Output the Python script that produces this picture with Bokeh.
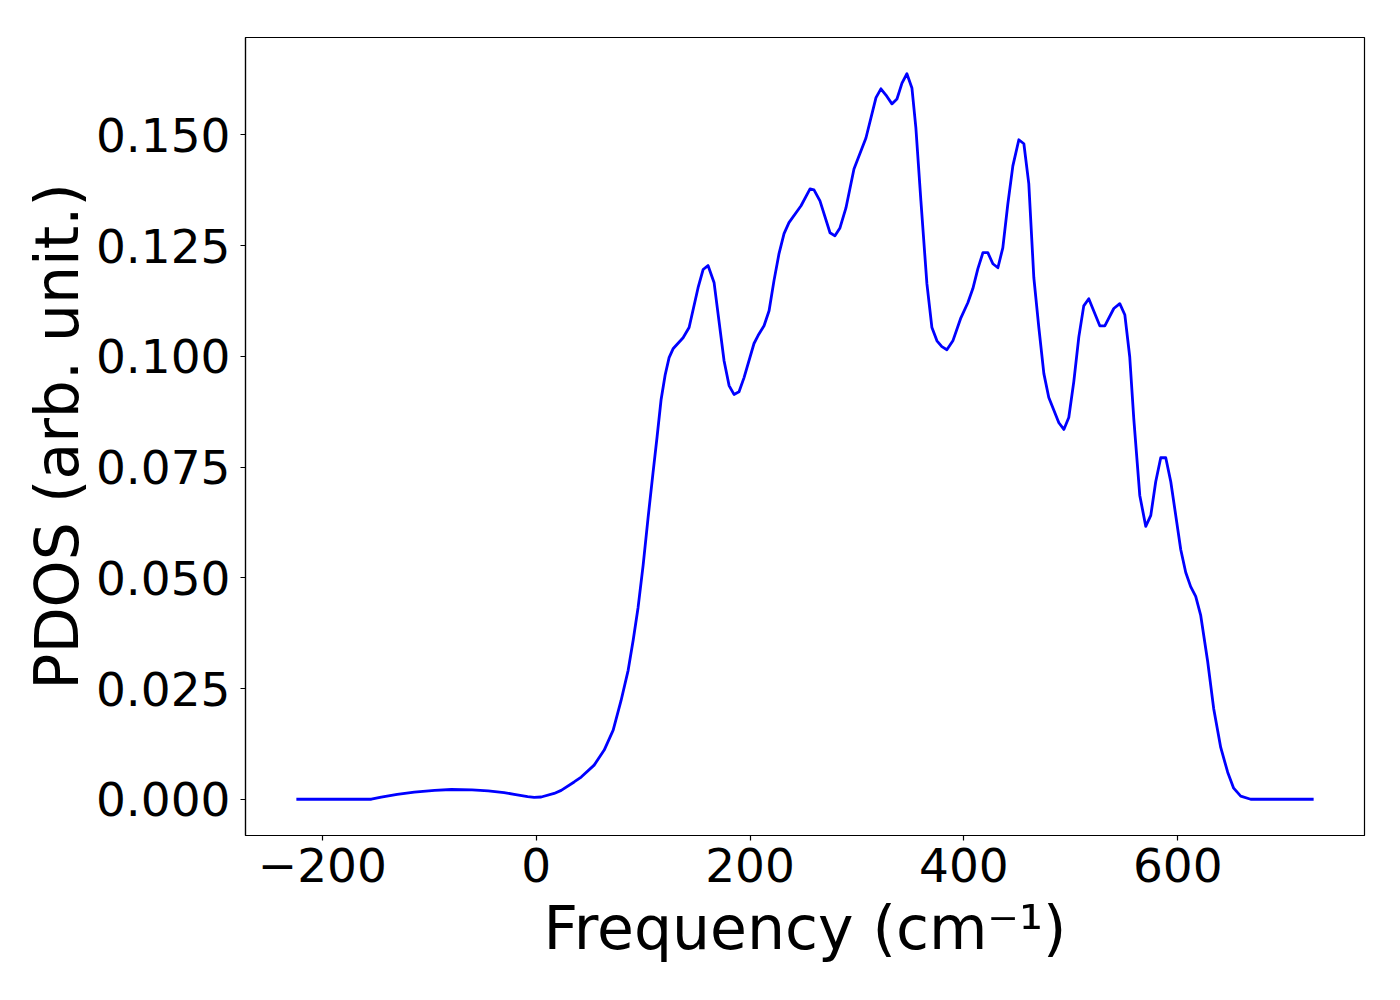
from bokeh.plotting import figure
from bokeh.models import FixedTicker, NumeralTickFormatter, CustomJSTickFormatter, Range1d
from bokeh.embed import file_html
from bokeh.resources import INLINE

# Frequency (cm^-1) and PDOS values
freq = [-224.3, -154.2, -144.9, -130.0, -114.0, -95.0, -79.4, -60.0, -44.9, -30.0,
        -20.6, -8.0, -1.9, 4.7, 16.8, 23.4, 35.5, 42.1, 54.2, 63.6,
        72.0, 79.4, 86.0, 90.7, 95.3, 100.0, 104.7, 109.3, 113.1, 116.8,
        120.6, 124.3, 128.0, 137.4, 143.0, 151.4, 156.1, 160.7, 166.4, 170.1,
        175.7, 180.4, 185.0, 189.7, 194.4, 203.7, 207.5, 213.1, 217.8, 222.4,
        227.1, 231.8, 236.4, 247.7, 256.1, 259.8, 265.4, 274.8, 279.4, 284.1,
        289.7, 297.2, 308.4, 317.8, 322.4, 327.1, 332.7, 337.4, 342.1, 346.7,
        351.4, 355.1, 359.8, 365.4, 370.1, 374.8, 379.4, 384.1, 389.7, 397.2,
        403.7, 408.4, 413.1, 417.8, 422.4, 427.1, 431.8, 436.4, 441.1, 445.8,
        451.4, 456.1, 460.7, 465.4, 470.1, 474.8, 479.4, 488.8, 493.5, 498.1,
        502.8, 507.5, 512.1, 516.8, 527.1, 531.8, 540.2, 545.8, 550.5, 555.1,
        558.9, 564.5, 570.1, 574.8, 579.4, 584.1, 588.8, 593.5, 602.8, 607.5,
        612.1, 616.8, 621.5, 628.0, 633.6, 640.2, 646.7, 652.3, 658.9, 668.2,
        727.1]
pdos = [0.0, 0.0, 0.0005, 0.0011, 0.0016, 0.0020, 0.0022, 0.0021, 0.0019, 0.0015,
        0.0011, 0.0006, 0.0004, 0.0005, 0.0013, 0.0020, 0.0039, 0.0050, 0.0077, 0.0111,
        0.0156, 0.0223, 0.0291, 0.0359, 0.0433, 0.0528, 0.0637, 0.0738, 0.0819, 0.0902,
        0.0958, 0.0997, 0.1017, 0.1042, 0.1065, 0.1155, 0.1196, 0.1205, 0.1166, 0.1096,
        0.0990, 0.0934, 0.0914, 0.0920, 0.0952, 0.1029, 0.1047, 0.1069, 0.1103, 0.1171,
        0.1232, 0.1277, 0.1302, 0.1340, 0.1378, 0.1376, 0.1351, 0.1279, 0.1272, 0.1290,
        0.1335, 0.1423, 0.1493, 0.1584, 0.1604, 0.1590, 0.1570, 0.1581, 0.1617, 0.1638,
        0.1606, 0.1516, 0.1351, 0.1164, 0.1065, 0.1035, 0.1022, 0.1015, 0.1035, 0.1087,
        0.1121, 0.1153, 0.1198, 0.1234, 0.1234, 0.1209, 0.1200, 0.1245, 0.1344, 0.1430,
        0.1489, 0.1480, 0.1390, 0.1178, 0.1065, 0.0961, 0.0907, 0.0850, 0.0835, 0.0862,
        0.0943, 0.1044, 0.1114, 0.1130, 0.1069, 0.1069, 0.1108, 0.1119, 0.1094, 0.0999,
        0.0859, 0.0686, 0.0616, 0.0641, 0.0717, 0.0771, 0.0771, 0.0717, 0.0564, 0.0512,
        0.0480, 0.0458, 0.0415, 0.0311, 0.0205, 0.0117, 0.0061, 0.0025, 0.0007, 0.0,
        0.0]

x_ticks = [-200, 0, 200, 400, 600]
y_ticks = [0.0, 0.025, 0.05, 0.075, 0.1, 0.125, 0.15]
x_label = "Frequency (cm\u207b\u00b9)"
y_label = "PDOS (arb. unit.)"

xmin, xmax = min(freq), max(freq)
ymin, ymax = min(pdos), max(pdos)
xpad = 0.05 * (xmax - xmin)
ypad = 0.05 * (ymax - ymin)

p = figure(output_backend="svg", toolbar_location=None,
           frame_width=1119, frame_height=798,
           min_border_left=245, min_border_right=28,
           min_border_top=37, min_border_bottom=157,
           x_range=Range1d(xmin - xpad, xmax + xpad),
           y_range=Range1d(ymin - ypad, ymax + ypad))

p.line(freq, pdos, line_color="#0000ff", line_width=2.8, line_join="round")

p.xgrid.visible = False
p.ygrid.visible = False
p.outline_line_color = "black"
p.outline_line_width = 1.2
p.background_fill_color = "white"
p.border_fill_color = "white"

font = "DejaVu Sans"
for ax in (p.xaxis[0], p.yaxis[0]):
    ax.axis_line_color = "black"
    ax.axis_line_width = 1.2
    ax.major_tick_line_color = "black"
    ax.major_tick_line_width = 1.2
    ax.major_tick_in = 0
    ax.major_tick_out = 5
    ax.minor_tick_line_color = None
    ax.major_label_text_font = font
    ax.major_label_text_font_size = "47px"
    ax.major_label_text_color = "black"
    ax.axis_label_text_font = font
    ax.axis_label_text_font_size = "60px"
    ax.axis_label_text_font_style = "normal"
    ax.axis_label_text_color = "black"

p.xaxis[0].ticker = FixedTicker(ticks=x_ticks)
p.xaxis[0].formatter = CustomJSTickFormatter(
    code="return tick < 0 ? '\u2212' + Math.abs(tick).toFixed(0) : tick.toFixed(0);")
p.xaxis[0].major_label_standoff = 7
p.xaxis[0].axis_label = x_label
p.xaxis[0].axis_label_standoff = 8

p.yaxis[0].ticker = FixedTicker(ticks=y_ticks)
p.yaxis[0].formatter = NumeralTickFormatter(format="0.000")
p.yaxis[0].major_label_standoff = 10
p.yaxis[0].axis_label = y_label
p.yaxis[0].axis_label_standoff = 1

open("out.html", "w").write(file_html(p, INLINE))
